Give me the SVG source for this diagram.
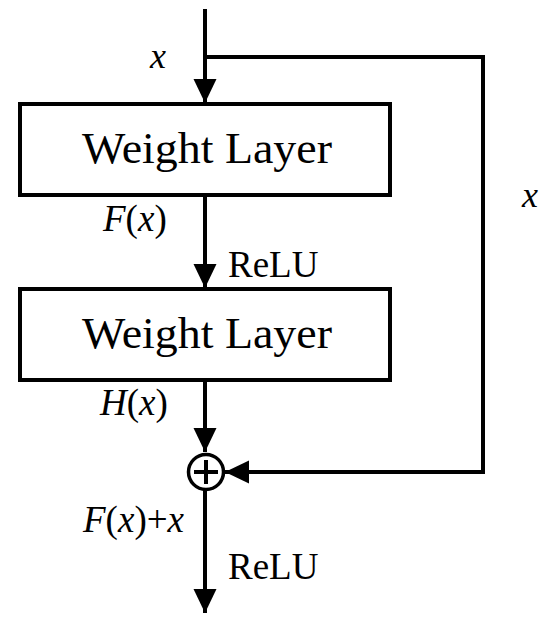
<svg xmlns="http://www.w3.org/2000/svg" width="550" height="631" viewBox="0 0 550 631" font-family="Liberation Serif, Times New Roman, Times, serif">
<style>
.ln{stroke:#000;stroke-width:4;fill:none}
.box{stroke:#000;stroke-width:4;fill:#fff}
.i{font-style:italic}
</style>
<defs>
<marker id="ah" markerWidth="24" markerHeight="24" refX="24" refY="11.5" orient="auto" markerUnits="userSpaceOnUse" viewBox="0 0 24 23">
<path d="M0,0 L24,11.5 L0,23 Z" fill="#000"/>
</marker>
</defs>
<g id="connectors">
<line class="ln" x1="205" y1="9" x2="205" y2="103" marker-end="url(#ah)"/>
<polyline class="ln" points="205,57 483,57 483,472 225,472" marker-end="url(#ah)"/>
<line class="ln" x1="205" y1="195" x2="205" y2="288" marker-end="url(#ah)"/>
<line class="ln" x1="205" y1="380" x2="205" y2="452" marker-end="url(#ah)"/>
<line class="ln" x1="205" y1="490" x2="205" y2="613" marker-end="url(#ah)"/>
</g>
<g id="box1">
<rect class="box" x="20" y="104" width="370" height="91"/>
<text x="82" y="163" font-family="Liberation Serif, serif" font-size="44" textLength="250" lengthAdjust="spacingAndGlyphs">Weight Layer</text>
</g>
<g id="box2">
<rect class="box" x="20" y="289" width="370" height="91"/>
<text x="82" y="348" font-family="Liberation Serif, serif" font-size="44" textLength="250" lengthAdjust="spacingAndGlyphs">Weight Layer</text>
</g>
<g id="sum">
<circle cx="206" cy="472" r="17.5" fill="#fff" stroke="#000" stroke-width="3.5"/>
<line class="ln" x1="206" y1="460" x2="206" y2="484" stroke-width="3"/>
<line class="ln" x1="194" y1="472" x2="218" y2="472" stroke-width="3"/>
</g>
<g id="labels" font-family="Liberation Serif, serif">
<text class="i" x="150" y="68" font-size="36">x</text>
<text class="i" x="522" y="207" font-size="36">x</text>
<text x="103" y="231" font-size="37"><tspan class="i">F</tspan>(<tspan class="i">x</tspan>)</text>
<text x="228" y="277" font-size="37">ReLU</text>
<text x="100" y="415" font-size="37"><tspan class="i">H</tspan>(<tspan class="i">x</tspan>)</text>
<text x="83" y="532" font-size="37"><tspan class="i">F</tspan>(<tspan class="i">x</tspan>)+<tspan class="i">x</tspan></text>
<text x="228" y="579" font-size="37">ReLU</text>
</g>
</svg>
